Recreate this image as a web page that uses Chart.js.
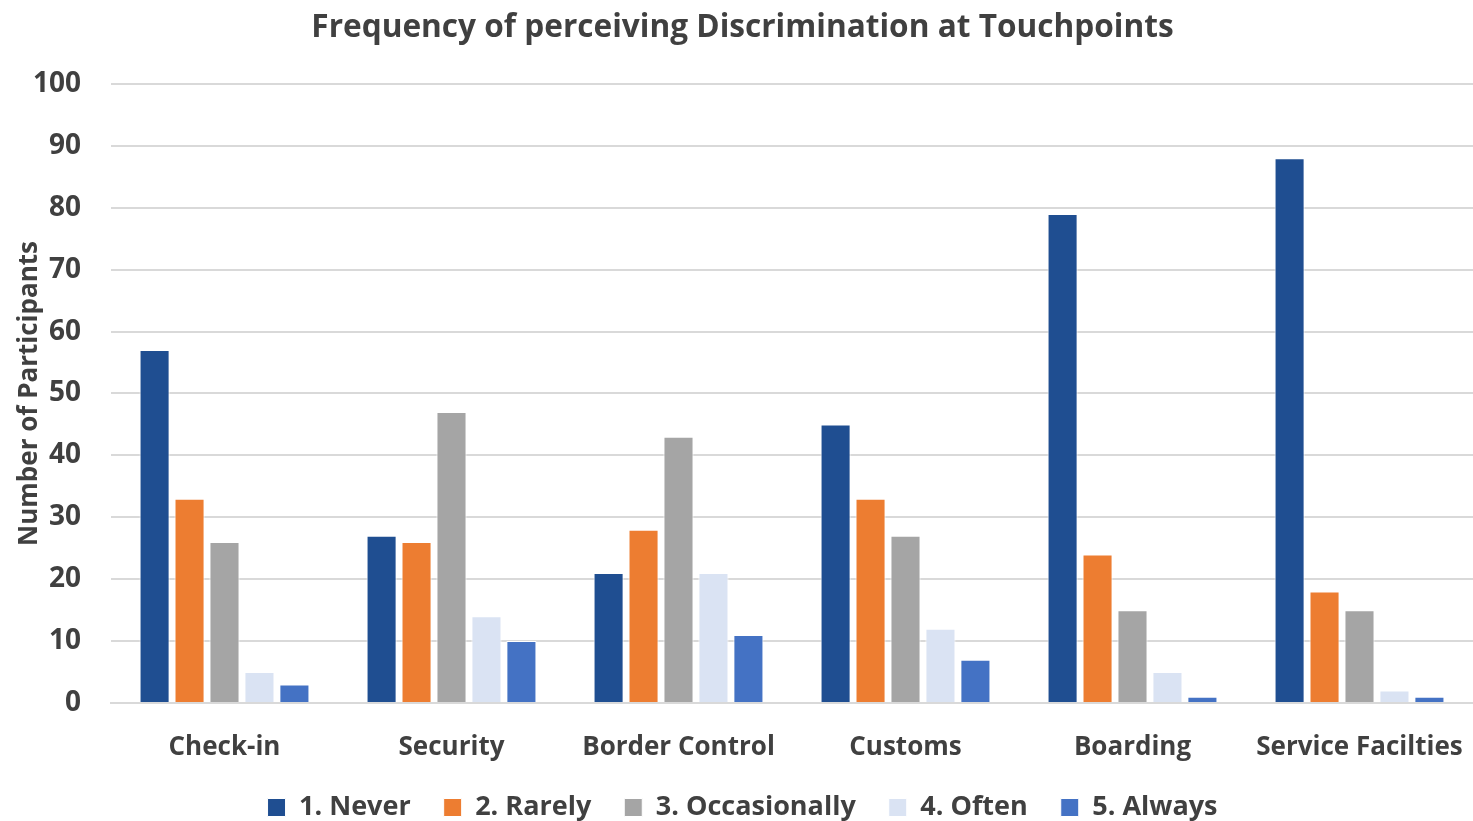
<!DOCTYPE html>
<html>
<head>
<meta charset="utf-8">
<script src="https://cdn.jsdelivr.net/npm/chart.js@4"></script>
<style>
  html, body { margin: 0; padding: 0; background: #fff; }
  #wrap { width: 1473px; height: 821px; position: relative; }
</style>
</head>
<body>
<div id="wrap"><canvas id="touchpointChart"></canvas></div>
<script>
// touchpoints along the x axis
const touchpoints = ['Check-in', 'Security', 'Border Control', 'Customs', 'Boarding', 'Service Facilties'];

// participant counts per answer, one value per touchpoint
const never        = [57, 27, 21, 45, 79, 88];
const rarely       = [33, 26, 28, 33, 24, 18];
const occasionally = [26, 47, 43, 27, 15, 15];
const often        = [5, 14, 21, 12, 5, 2];
const always       = [3, 10, 11, 7, 1, 1];

const seriesNames = ['1. Never', '2. Rarely', '3. Occasionally', '4. Often', '5. Always'];
const yTicks = [0, 10, 20, 30, 40, 50, 60, 70, 80, 90, 100];

const colours = ['#1F4E91', '#ED7D31', '#A5A5A5', '#DAE3F3', '#4472C4'];
const textColour = '#404040';
const fontFamily = '"Open Sans", sans-serif';

const seriesData = [never, rarely, occasionally, often, always];

// keep the legend row tight against the bottom edge
const legendHeight = {
  id: 'legendHeight',
  beforeLayout(chart) {
    const legend = chart.legend;
    if (legend && !legend.heightFixed) {
      const fit = legend.fit;
      legend.fit = function () {
        fit.call(this);
        this.height = 60;
      };
      legend.heightFixed = true;
    }
  }
};

const data = {
  labels: touchpoints,
  datasets: seriesData.map((values, i) => ({
    label: seriesNames[i],
    data: values,
    backgroundColor: colours[i],
    borderColor: '#ffffff',
    borderWidth: 1,
    categoryPercentage: 0.77,
    barPercentage: 0.86
  }))
};

const config = {
  type: 'bar',
  data: data,
  plugins: [legendHeight],
  options: {
    responsive: true,
    maintainAspectRatio: false,
    animation: false,
    layout: { padding: { left: 12, right: 0, top: 0, bottom: 0 } },
    plugins: {
      title: {
        display: true,
        text: 'Frequency of perceiving Discrimination at Touchpoints',
        color: textColour,
        font: { family: fontFamily, size: 31.6, weight: 'bold' },
        padding: { top: 9, bottom: 37 }
      },
      legend: {
        position: 'bottom',
        labels: {
          color: textColour,
          font: { family: fontFamily, size: 27, weight: 'bold' },
          boxWidth: 18,
          boxHeight: 18,
          padding: 33
        }
      },
      tooltip: { enabled: false }
    },
    scales: {
      x: {
        grid: { display: false },
        border: { color: '#D9D9D9', width: 2 },
        ticks: {
          color: textColour,
          font: { family: fontFamily, size: 26, weight: 'bold' },
          padding: 21,
          maxRotation: 0,
          autoSkip: false
        },
        afterFit: scale => {
          scale.height = 58;
          scale.paddingLeft = 0;
          scale.paddingRight = 0;
        }
      },
      y: {
        min: 0,
        max: 100,
        afterBuildTicks: axis => { axis.ticks = yTicks.map(v => ({ value: v })); },
        afterFit: scale => { scale.width = 99; },
        grid: { color: '#D9D9D9', lineWidth: 2, drawTicks: false },
        border: { display: false },
        ticks: {
          color: textColour,
          font: { family: fontFamily, size: 28, weight: 'bold' },
          padding: 30
        },
        title: {
          display: true,
          text: 'Number of Participants',
          color: textColour,
          font: { family: fontFamily, size: 26, weight: 'bold' },
          padding: { top: 2, bottom: 0 }
        }
      }
    }
  }
};

const ctx = document.getElementById('touchpointChart').getContext('2d');
new Chart(ctx, config);
</script>
</body>
</html>
